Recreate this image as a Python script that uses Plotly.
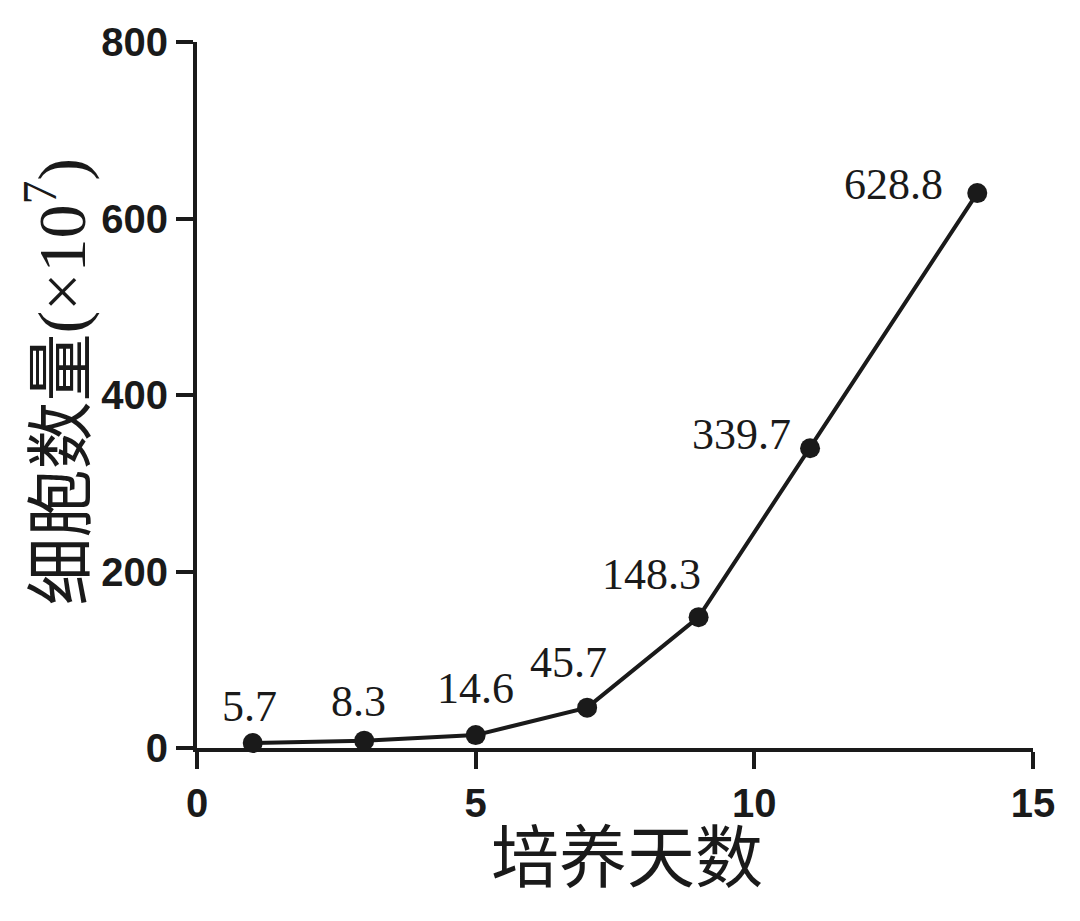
import plotly.graph_objects as go

days = [1, 3, 5, 7, 9, 11, 14]
cells = [5.7, 8.3, 14.6, 45.7, 148.3, 339.7, 628.8]
labels = ["5.7", "8.3", "14.6", "45.7", "148.3", "339.7", "628.8"]
x_ticks = [0, 5, 10, 15]
y_ticks = [0, 200, 400, 600, 800]

# label offsets (pixels) relative to each point
label_dx = [-3, -6, 0, -19, -47, -69, -84]
label_dy = [36, 39, 47, 45, 43, 14, 9]

INK = "#1a1a1a"
OFF = 8  # default page body margin
L, R, T, B = 197, 1033, 37, 748  # target plot-area edges in page pixels
W, H = 1080 - OFF, 921 - OFF

fig = go.Figure()
fig.add_trace(go.Scatter(
    x=days, y=cells, mode="lines+markers",
    line=dict(color=INK, width=4),
    marker=dict(color=INK, size=20),
    cliponaxis=False, showlegend=False,
))

for xi, yi, t, dx, dy in zip(days, cells, labels, label_dx, label_dy):
    fig.add_annotation(
        x=xi, y=yi, text=t, showarrow=False,
        xanchor="center", yanchor="middle", xshift=dx, yshift=dy,
        font=dict(family="Liberation Serif, Times New Roman, serif", size=44, color=INK),
    )

fig.add_annotation(
    xref="paper", yref="paper",
    x=(627 - L) / (R - L), y=(B - 860) / (B - T),
    text="培养天数", showarrow=False, xanchor="center", yanchor="middle",
    font=dict(family="Liberation Serif, Noto Sans CJK SC, serif", size=68, color=INK),
)
fig.add_annotation(
    xref="paper", yref="paper",
    x=(57 - L) / (R - L), y=(B - 380) / (B - T),
    text="细胞数量(×10<sup>7</sup>)", showarrow=False, textangle=-90,
    xanchor="center", yanchor="middle",
    font=dict(family="Liberation Serif, Noto Sans CJK SC, serif", size=68, color=INK),
)

axis_common = dict(
    showline=True, linecolor=INK, linewidth=4,
    ticks="outside", ticklen=17, tickwidth=4, tickcolor=INK,
    showgrid=False, zeroline=False,
    tickfont=dict(family="Liberation Sans, Arial, sans-serif", size=40, color=INK, weight="bold"),
)

fig.update_xaxes(range=[0, 15], tickvals=x_ticks, ticktext=[str(v) for v in x_ticks], **axis_common)
fig.update_yaxes(range=[0, 800], tickvals=y_ticks, ticktext=[str(v) for v in y_ticks], **axis_common)

fig.update_layout(
    width=W, height=H,
    margin=dict(l=L - OFF, r=W + OFF - R, t=T - OFF, b=H + OFF - B, pad=0),
    plot_bgcolor="white", paper_bgcolor="white",
)

fig.write_html("out.html")
